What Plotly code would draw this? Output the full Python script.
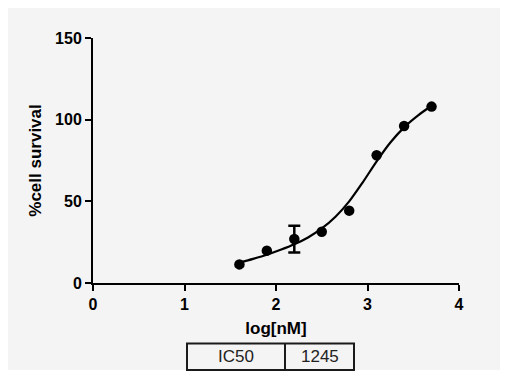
import plotly.graph_objects as go

# ---- data ----
log_conc = [1.6, 1.9, 2.2, 2.5, 2.8, 3.1, 3.4, 3.7]
survival = [11.4, 19.8, 26.9, 31.4, 44.3, 78.2, 96.1, 108.0]
err_plus = [None, None, 8.2, None, None, None, None, None]
err_minus = [None, None, 8.3, None, None, None, None, None]

fit_x = [1.6, 1.75, 1.9, 2.05, 2.2, 2.35, 2.5, 2.65, 2.8, 2.95, 3.1, 3.25, 3.4, 3.55, 3.7]
fit_y = [12.5, 14.8, 17.3, 20.3, 23.7, 27.9, 33.4, 40.6, 50.0, 61.8, 74.5, 86.0, 95.3, 102.5, 108.5]

table_labels = ["IC50"]
table_values = ["1245"]

x_ticks = [0, 1, 2, 3, 4]
y_ticks = [0, 50, 100, 150]

# ---- layout geometry (pixels, page coordinates) ----
OFF = 8  # page body margin
W, H = 508 - OFF, 379 - OFF
L, R, T, B = 93 - OFF, 459 - OFF, 38 - OFF, 283 - OFF  # plot area in figure px


def px_x(p):
    p -= OFF
    return (p - L) / (R - L)


def px_y(p):
    p -= OFF
    return (B - p) / (B - T)


FONT = "Liberation Sans, Arial, sans-serif"

fig = go.Figure()

fig.add_trace(go.Scatter(
    x=fit_x, y=fit_y, mode="lines",
    line=dict(color="black", width=2.2, shape="spline", smoothing=0.8),
    hoverinfo="skip", showlegend=False,
))

# error bars only where they exist
idx = [i for i, e in enumerate(err_plus) if e is not None]
fig.add_trace(go.Scatter(
    x=[log_conc[i] for i in idx], y=[survival[i] for i in idx], mode="markers",
    marker=dict(color="black", size=1, opacity=0),
    error_y=dict(type="data", array=[err_plus[i] for i in idx],
                 arrayminus=[err_minus[i] for i in idx],
                 color="black", thickness=2.5, width=6, symmetric=False),
    cliponaxis=False, showlegend=False, hoverinfo="skip",
))

fig.add_trace(go.Scatter(
    x=log_conc, y=survival, mode="markers",
    marker=dict(color="black", size=10.5, symbol="circle"),
    cliponaxis=False, showlegend=False,
))

fig.update_layout(
    width=W, height=H,
    margin=dict(l=L, r=W - R, t=T, b=H - B, autoexpand=False),
    paper_bgcolor="white",
    plot_bgcolor="rgba(0,0,0,0)",
    showlegend=False,
    font=dict(family=FONT, color="black"),
)

fig.update_xaxes(
    range=[0, 4], tickvals=x_ticks, ticktext=[str(t) for t in x_ticks],
    showgrid=False, zeroline=False, showline=True, linecolor="black",
    linewidth=2, ticks="outside", ticklen=6, tickwidth=2, tickcolor="black",
    tickfont=dict(family=FONT, size=16, color="black", weight="bold"),
    title=dict(text="log[nM]", standoff=10,
               font=dict(family=FONT, size=17, color="black", weight="bold")),
    automargin=False,
)
fig.update_yaxes(
    range=[0, 150], tickvals=y_ticks, ticktext=[str(t) for t in y_ticks],
    showgrid=False, zeroline=False, showline=True, linecolor="black",
    linewidth=2, ticks="outside", ticklen=6, tickwidth=2, tickcolor="black",
    tickfont=dict(family=FONT, size=16, color="black", weight="bold"),
    title=dict(text="%cell survival", standoff=9,
               font=dict(family=FONT, size=17, color="black", weight="bold")),
    automargin=False,
)

shapes = []
# grey page background
shapes.append(dict(type="rect", xref="paper", yref="paper", layer="below",
                   x0=px_x(7), x1=px_x(512), y0=px_y(370), y1=px_y(4),
                   fillcolor="#f4f4f4", line=dict(width=0)))

# IC50 table
tx0, tdiv, tx1 = 187, 285, 354
ty0, ty1 = 343.5, 370
shapes.append(dict(type="rect", xref="paper", yref="paper",
                   x0=px_x(tx0), x1=px_x(tx1), y0=px_y(ty1), y1=px_y(ty0),
                   line=dict(color="#1a1a1a", width=2), fillcolor="rgba(0,0,0,0)"))
shapes.append(dict(type="line", xref="paper", yref="paper",
                   x0=px_x(tdiv), x1=px_x(tdiv), y0=px_y(ty1), y1=px_y(ty0),
                   line=dict(color="#1a1a1a", width=2)))
fig.update_layout(shapes=shapes)

ann = []
ymid = px_y((ty0 + ty1) / 2)
ann.append(dict(xref="paper", yref="paper", x=px_x((tx0 + tdiv) / 2), y=ymid,
                text=table_labels[0], showarrow=False, xanchor="center", yanchor="middle",
                font=dict(family=FONT, size=17, color="#222")))
ann.append(dict(xref="paper", yref="paper", x=px_x((tdiv + tx1) / 2), y=ymid,
                text=table_values[0], showarrow=False, xanchor="center", yanchor="middle",
                font=dict(family=FONT, size=17, color="#222")))
fig.update_layout(annotations=ann)

fig.write_html("out.html")
